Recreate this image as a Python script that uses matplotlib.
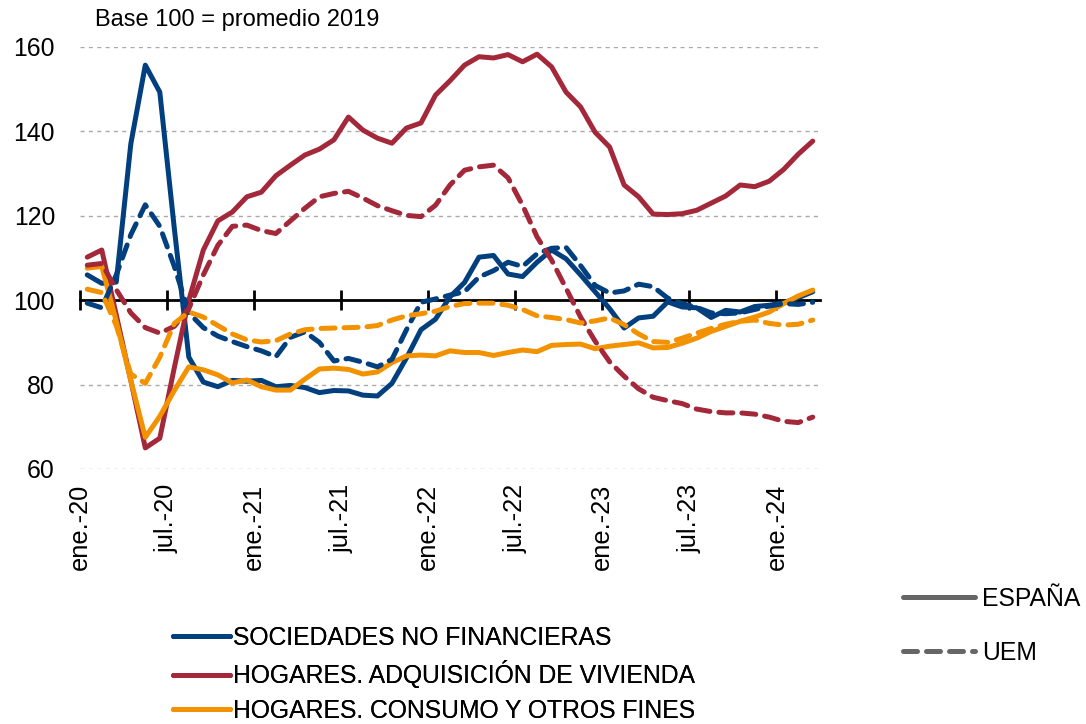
import matplotlib
matplotlib.use("Agg")
import matplotlib.pyplot as plt
import matplotlib.transforms as mtransforms
from matplotlib.lines import Line2D
import numpy as np

# meses ene-20 .. mar-24
tick_labels = ["ene.-20", "jul.-20", "ene.-21", "jul.-21", "ene.-22",
               "jul.-22", "ene.-23", "jul.-23", "ene.-24"]
tick_pos = [0, 6, 12, 18, 24, 30, 36, 42, 48]

esp_snf = [106, 104, 104.3, 137, 155.7, 149.3, 117, 86.5, 80.6, 79.5,
           81, 80.8, 81, 79.5, 79.8, 79.3, 78.1, 78.6, 78.5, 77.5,
           77.3, 80.3, 86.3, 93, 95.5, 100.8, 104.2, 110.2, 110.6, 106.2,
           105.6, 109, 111.9, 109.8, 106, 102, 98, 93.4, 95.8, 96.2,
           99.6, 98.4, 98.2, 95.9, 97.6, 97.2, 98.5, 98.8, 99.4, 100.6, 102]
uem_snf = [99.3, 98.2, 106, 115.5, 122.6, 117.5, 108, 97, 93.5, 91.5,
           90.2, 89, 88, 86.6, 91.2, 92.5, 90, 85.6, 86.2, 85.3,
           84.2, 86, 93, 99.5, 100.3, 101.2, 102, 105.5, 107, 109,
           108, 111, 112.3, 112.5, 108.2, 103.5, 101.7, 102.2, 103.8, 103.2,
           100.5, 99.2, 98.3, 97, 96.8, 97, 97.8, 98.6, 99.2, 99, 99.5]
esp_viv = [110.2, 111.9, 96.5, 81, 65, 67.3, 84, 100, 111.9, 118.8,
           120.9, 124.5, 125.6, 129.5, 132, 134.4, 135.8, 138, 143.4, 140.3,
           138.4, 137.2, 140.8, 142, 148.6, 152, 155.7, 157.7, 157.4, 158.2,
           156.5, 158.3, 155.3, 149.3, 145.8, 139.8, 136.3, 127.3, 124.5, 120.4,
           120.3, 120.5, 121.3, 123, 124.7, 127.3, 126.9, 128.2, 131, 134.6, 137.7]
uem_viv = [108.3, 108.7, 102.5, 97, 93.5, 92.2, 93.8, 98, 106, 113,
           117.5, 117.8, 116.5, 115.8, 118.8, 121.8, 124.5, 125.3, 125.8, 124.2,
           122.4, 121.2, 120.1, 119.8, 122.5, 127.3, 130.8, 131.6, 132, 129,
           122.5, 115, 109.5, 102.8, 96, 90.3, 85.4, 82, 79, 77,
           76.2, 75.5, 74.2, 73.6, 73.3, 73.3, 73, 72.3, 71.3, 71, 72.3]
esp_con = [107.6, 108, 95, 81, 67.5, 72.5, 78.6, 84.2, 83.5, 82.3,
           80.4, 81.1, 79.5, 78.7, 78.7, 81.3, 83.7, 83.9, 83.6, 82.5,
           83, 85.2, 86.8, 87, 86.8, 88, 87.6, 87.6, 86.9, 87.6,
           88.2, 87.8, 89.3, 89.5, 89.6, 88.5, 89.1, 89.5, 89.9, 88.7,
           88.8, 89.8, 91, 92.6, 93.8, 95, 96, 97.2, 99.2, 101, 102.4]
uem_con = [102.6, 101.8, 94, 82.5, 80.3, 86.5, 94.5, 97.2, 96, 94,
           92, 90.6, 90.1, 90.4, 92, 93, 93.3, 93.4, 93.5, 93.6,
           94, 95.3, 96.3, 96.8, 97.4, 98.5, 99.2, 99.3, 99.3, 98.8,
           97.8, 96.3, 95.9, 95.4, 94.6, 95.1, 95.8, 94.2, 92, 90.2,
           90, 91, 92.2, 93.3, 94.3, 95, 95.3, 94.5, 94.1, 94.3, 95.3]

AZUL = "#023f7f"
ROJO = "#a2283a"
NARANJA = "#f39200"
GRIS = "#666666"


def main():
    plt.rcParams["font.family"] = ["Liberation Sans", "DejaVu Sans"]
    fs = 17.8

    fig = plt.figure(figsize=(10.86, 7.24), dpi=100)
    ax = fig.add_axes([80 / 1086, 1 - 469 / 724, 740 / 1086, 422 / 724])

    x = np.arange(len(esp_snf)) + 0.5
    lw = 3.6
    dash = dict(linestyle=(0, (2.8, 1.8)), dash_capstyle="round")
    for serie, color in [(esp_snf, AZUL), (esp_viv, ROJO), (esp_con, NARANJA)]:
        ax.plot(x, serie, color=color, lw=lw, solid_capstyle="round",
                solid_joinstyle="round", zorder=3)
    for serie, color in [(uem_snf, AZUL), (uem_viv, ROJO), (uem_con, NARANJA)]:
        ax.plot(x, serie, color=color, lw=lw, zorder=3, **dash)

    ax.set_xlim(0, 51)
    ax.set_ylim(60, 160)
    ax.set_yticks([60, 80, 100, 120, 140, 160])
    ax.yaxis.grid(True, color="#aaaaaa", lw=1, linestyle=(0, (3, 3)))
    ax.set_axisbelow(True)
    ax.tick_params(axis="y", length=0, pad=18, labelsize=fs)

    for s in ["top", "right", "left"]:
        ax.spines[s].set_visible(False)
    ax.spines["bottom"].set_position(("data", 100))
    ax.spines["bottom"].set_linewidth(2)
    ax.spines["bottom"].set_zorder(2)
    ax.set_xticks(tick_pos)
    ax.tick_params(axis="x", direction="inout", length=15, width=2,
                   labelbottom=False)

    trans = mtransforms.blended_transform_factory(ax.transData, ax.transAxes)
    for p, lab in zip(tick_pos, tick_labels):
        ax.text(p, -0.036, lab, transform=trans, rotation=90, ha="center",
                va="top", fontsize=fs + 0.5)

    fig.text(95 / 1086, 1 - 20 / 724, "Base 100 = promedio 2019",
             fontsize=17, va="center", ha="left")

    h1 = [Line2D([], [], color=AZUL, lw=lw, solid_capstyle="round"),
          Line2D([], [], color=ROJO, lw=lw, solid_capstyle="round"),
          Line2D([], [], color=NARANJA, lw=lw, solid_capstyle="round")]
    l1 = ["SOCIEDADES NO FINANCIERAS",
          "HOGARES. ADQUISICIÓN DE VIVIENDA",
          "HOGARES. CONSUMO Y OTROS FINES"]
    leg1 = fig.legend(h1, l1, loc="upper left",
                      bbox_to_anchor=(173 / 1086, 1 - 626 / 724),
                      frameon=False, fontsize=fs, handlelength=2.3,
                      handletextpad=0.12, labelspacing=0.42, borderpad=0,
                      borderaxespad=0)
    fig.add_artist(leg1)

    h2 = [Line2D([], [], color=GRIS, lw=lw, solid_capstyle="round"),
          Line2D([], [], color=GRIS, lw=lw, **dash)]
    fig.legend(h2, ["ESPAÑA", "UEM"], loc="upper left",
               bbox_to_anchor=(903 / 1086, 1 - 587 / 724),
               frameon=False, fontsize=fs, handlelength=2.9,
               handletextpad=0.3, labelspacing=1.2, borderpad=0,
               borderaxespad=0)

    fig.savefig("out.png", dpi=100)


if __name__ == '__main__':
    main()
